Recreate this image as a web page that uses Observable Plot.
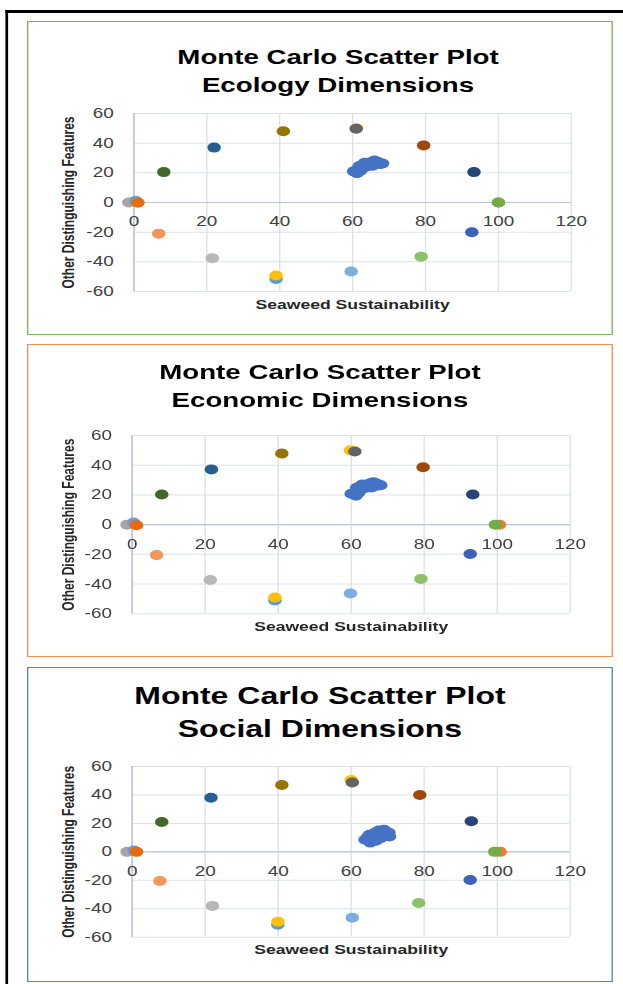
<!DOCTYPE html>
<html>
<head>
<meta charset="utf-8">
<script src="https://cdn.jsdelivr.net/npm/d3@7"></script>
<script src="https://cdn.jsdelivr.net/npm/@observablehq/plot@0.6"></script>
<style>
  html, body { margin: 0; padding: 0; background: #fff; width: 623px; height: 984px; overflow: hidden; }
  #root { position: absolute; left: 0; top: 0; width: 461.5px; height: 984px; transform: scaleX(1.35); transform-origin: 0 0; font-family: "Liberation Sans", Arial, sans-serif; }
  .frame { position: absolute; left: 3.5px; top: 10px; width: 600px; height: 1000px; border-left: 2.3px solid #000; border-top: 3px solid #000; }
  .panel { position: absolute; left: 20px; width: 434px; box-sizing: border-box; border: 1.3px solid; background: #fff; }
  .title { position: absolute; width: 400px; text-align: center; font-weight: bold; color: #000; white-space: nowrap; }
  .plot { position: absolute; left: 22px; }
</style>
</head>
<body>
<div id="root"></div>
<script>
// ---------- data ----------
const xTicks = [0, 20, 40, 60, 80, 100, 120];
const xTickLabels = ["0", "20", "40", "60", "80", "100", "120"];
const yTicks = [-60, -40, -20, 0, 20, 40, 60];
const yTickLabels = ["-60", "-40", "-20", "0", "20", "40", "60"];
const xTitle = "Seaweed Sustainability";
const yTitle = "Other Distinguishing Features";
const titleMain = "Monte Carlo Scatter Plot";
const panelSubtitles = ["Ecology Dimensions", "Economic Dimensions", "Social Dimensions"];

const clusterColor = "#4472C4";
const anchorColors = ["#A5A5A5", "#7A96CF", "#E46C0A", "#43682B", "#255E91", "#997300", "#FFC000", "#636363", "#9E480E", "#264478", "#ED7D31", "#70AD47", "#3A62B8", "#8CC168", "#7CAFDD", "#5B9BD5", "#FFC000", "#B7B7B7", "#F1975A"];

const ecologyAnchorX = [-1.4, 0.5, 1.1, 8.2, 22.0, 41.0, 61.0, 61.0, 79.5, 93.3, 100.0, 100.0, 92.7, 78.8, 59.6, 39.0, 39.0, 21.5, 6.8];
const ecologyAnchorY = [0.0, 1.1, -0.2, 20.5, 37.0, 48.0, 50.0, 49.7, 38.5, 20.5, 0.0, 0.0, -20.0, -36.5, -46.5, -51.5, -49.2, -37.5, -21.0];
const economicAnchorX = [-1.4, 0.4, 1.2, 8.1, 21.7, 41.0, 59.8, 61.0, 79.7, 93.3, 100.6, 99.5, 92.6, 79.1, 59.8, 39.1, 39.1, 21.4, 6.7];
const economicAnchorY = [0.0, 1.5, -0.4, 20.3, 37.2, 47.9, 50.0, 49.2, 38.6, 20.3, 0.0, 0.0, -19.8, -36.5, -46.3, -51.0, -49.0, -37.3, -20.5];
const socialAnchorX = [-1.4, 0.5, 1.2, 8.1, 21.6, 41.0, 60.0, 60.3, 78.8, 92.9, 100.8, 99.3, 92.6, 78.5, 60.3, 39.9, 39.9, 22.0, 7.6];
const socialAnchorY = [0.0, 1.0, 0.0, 21.0, 38.0, 47.0, 50.5, 48.7, 40.0, 21.5, 0.0, 0.0, -19.8, -36.0, -46.3, -51.3, -49.2, -38.0, -20.5];

const ecologyClusterX = [60.3, 61.2, 62.2, 61.8, 62.8, 63.5, 64.2, 64.8, 65.3, 66.0, 66.2, 67.0, 67.6, 68.2, 65.5, 63.3];
const ecologyClusterY = [21.0, 19.8, 21.5, 24.5, 25.5, 24.0, 26.5, 25.0, 27.5, 28.3, 26.2, 27.3, 26.0, 26.3, 24.8, 26.8];
const economicClusterX = [60.0, 61.3, 62.0, 61.5, 62.5, 63.4, 64.0, 64.9, 65.2, 66.1, 66.4, 67.1, 67.5, 68.1, 65.6, 63.0];
const economicClusterY = [20.8, 19.5, 21.3, 24.8, 25.8, 24.3, 26.8, 25.2, 27.8, 28.6, 26.0, 27.5, 26.3, 26.5, 25.0, 27.0];
const socialClusterX = [63.8, 65.2, 66.0, 65.0, 66.5, 67.2, 68.0, 68.2, 69.0, 69.5, 70.3, 70.5, 67.5, 64.5, 66.8];
const socialClusterY = [8.5, 6.5, 9.5, 12.0, 13.5, 11.0, 13.8, 9.8, 15.5, 12.5, 13.5, 10.8, 15.0, 10.5, 7.8];

// ---------- layout (unscaled coordinates; root is stretched 1.35x horizontally) ----------
const panels = [
  { sub: panelSubtitles[0], border: "#7CB956", top: 21, height: 314, titleCx: 250.4, titleTop: 43.0, titleSize: 20.5, titleLH: 27.7,
    plotTop: 98, plotH: 227, mt: 15, mb: 34, ml: 76.7, mr: 29.3, ax: ecologyAnchorX, ay: ecologyAnchorY, cx: ecologyClusterX, cy: ecologyClusterY },
  { sub: panelSubtitles[1], border: "#EF8F54", top: 343.5, height: 313, titleCx: 237, titleTop: 357.9, titleSize: 20.5, titleLH: 28,
    plotTop: 420, plotH: 225, mt: 15, mb: 31.7, ml: 75.4, mr: 30.1, ax: economicAnchorX, ay: economicAnchorY, cx: economicClusterX, cy: economicClusterY },
  { sub: panelSubtitles[2], border: "#5A82C9", top: 667, height: 314.5, titleCx: 237, titleTop: 680.3, titleSize: 23.7, titleLH: 33,
    plotTop: 750, plotH: 220, mt: 16, mb: 33.3, ml: 75.4, mr: 30.1, ax: socialAnchorX, ay: socialAnchorY, cx: socialClusterX, cy: socialClusterY }
];

const root = document.getElementById("root");
const frame = document.createElement("div");
frame.className = "frame";
root.appendChild(frame);

const gridColor = "#DCE1EA";
const axisColor = "#BAC6DC";

for (const p of panels) {
  const box = document.createElement("div");
  box.className = "panel";
  box.style.top = p.top + "px";
  box.style.height = p.height + "px";
  box.style.borderColor = p.border;
  root.appendChild(box);

  const t = document.createElement("div");
  t.className = "title";
  t.style.left = (p.titleCx - 200) + "px";
  t.style.top = p.titleTop + "px";
  t.style.fontSize = p.titleSize + "px";
  t.style.lineHeight = p.titleLH + "px";
  t.appendChild(document.createTextNode(titleMain));
  t.appendChild(document.createElement("br"));
  t.appendChild(document.createTextNode(p.sub));
  root.appendChild(t);

  const anchors = p.ax.map((x, i) => ({ x, y: p.ay[i], c: anchorColors[i] }));
  const cluster = p.cx.map((x, i) => ({ x, y: p.cy[i] }));

  const chart = Plot.plot({
    width: 430,
    height: p.plotH,
    marginTop: p.mt,
    marginBottom: p.mb,
    marginLeft: p.ml,
    marginRight: p.mr,
    x: { domain: [0, 120], axis: null },
    y: { domain: [-60, 60], axis: null },
    color: { type: "identity" },
    style: { background: "transparent", fontFamily: "'Liberation Sans', Arial, sans-serif", overflow: "visible" },
    marks: [
      Plot.ruleX(xTicks, { x: d => d, stroke: gridColor, strokeWidth: 1 }),
      Plot.ruleY(yTicks, { y: d => d, stroke: gridColor, strokeWidth: 1 }),
      Plot.ruleX([0], { x: d => d, stroke: axisColor, strokeWidth: 1.2 }),
      Plot.ruleY([0], { y: d => d, stroke: axisColor, strokeWidth: 1.2 }),
      Plot.text(yTicks, { y: d => d, frameAnchor: "left", dx: -15, textAnchor: "end", lineAnchor: "middle", text: (d, i) => yTickLabels[i], fontSize: 14, fill: "#404040" }),
      Plot.text(xTicks, { x: d => d, y: () => 0, dy: 19.5, textAnchor: "middle", lineAnchor: "middle", text: (d, i) => xTickLabels[i], fontSize: 14, fill: "#404040" }),
      Plot.text([xTitle], { frameAnchor: "bottom", dy: 13, lineAnchor: "middle", text: d => d, fontSize: 13, fontWeight: "bold", fill: "#262626" }),
      Plot.text([yTitle], { frameAnchor: "left", dx: 28.4 - p.ml, rotate: -90, textAnchor: "middle", lineAnchor: "middle", text: d => d, fontSize: 12, fontWeight: "bold", fill: "#262626" }),
      Plot.dot(cluster, { x: "x", y: "y", r: 5, fill: clusterColor }),
      Plot.dot(anchors, { x: "x", y: "y", r: 5, fill: "c" })
    ]
  });
  chart.classList.add("plot");
  chart.style.top = p.plotTop + "px";
  chart.style.left = "22px";
  chart.style.position = "absolute";
  root.appendChild(chart);
}
</script>
</body>
</html>
